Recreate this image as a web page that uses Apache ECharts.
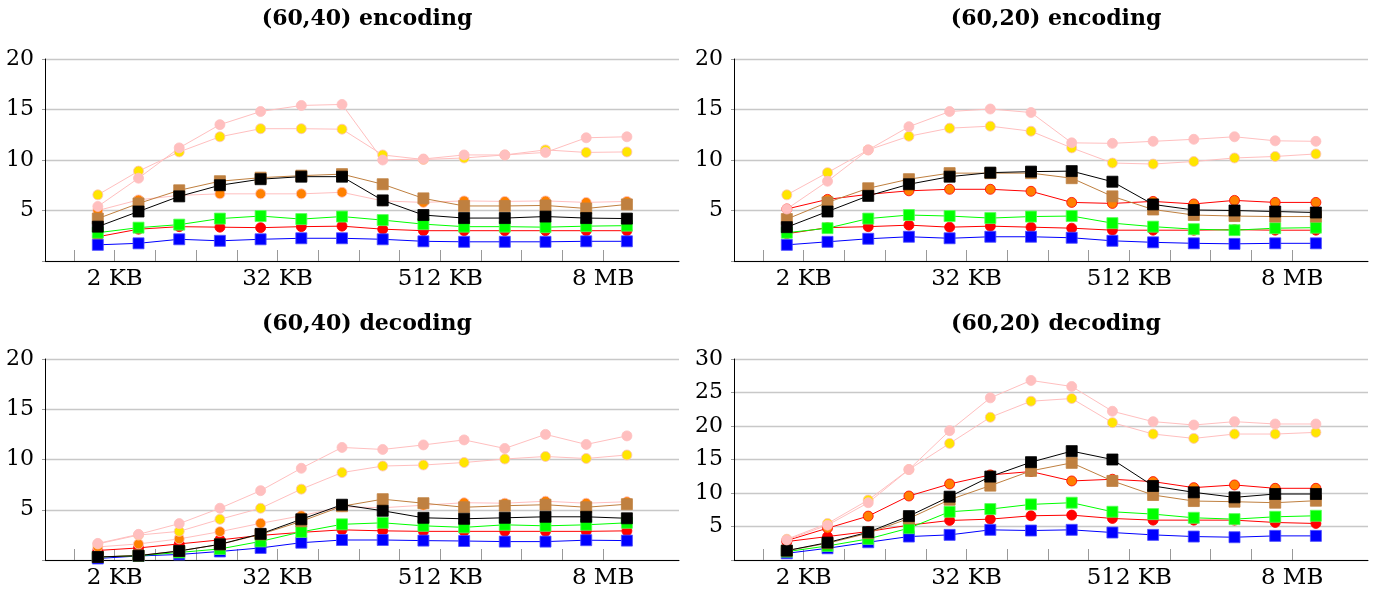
<!DOCTYPE html>
<html><head><meta charset="utf-8">
<script src="https://cdn.jsdelivr.net/npm/echarts@6/dist/echarts.min.js"></script>
<style>html,body{margin:0;padding:0;background:#fff}#c{width:1377px;height:595px}</style>
</head><body><div id="c"></div>
<script>
// x positions: block sizes in KB
const sizesKB = [1.5, 3, 6, 12, 24, 48, 96, 192, 384, 768, 1536, 3072, 6144, 12288];
// tick positions (log2 bytes) and labels
const tickExps = [10, 11, 12, 13, 14, 15, 16, 17, 18, 19, 20, 21, 22, 23];
const labelExps = [11, 15, 19, 23];
const labelTexts = ['2 KB', '32 KB', '512 KB', '8 MB'];
const titles = ['(60,40) encoding', '(60,20) encoding', '(60,40) decoding', '(60,20) decoding'];
const yMax = [20, 20, 20, 30];

// (60,40) encoding
const encA_pink   = [5.4, 8.2, 11.2, 13.5, 14.8, 15.4, 15.5, 10.0, 10.1, 10.5, 10.5, 10.75, 12.2, 12.3];
const encA_yellow = [6.55, 8.9, 10.8, 12.3, 13.1, 13.1, 13.05, 10.5, 10.05, 10.2, 10.5, 11.0, 10.75, 10.8];
const encA_brown  = [4.2, 5.7, 7.0, 7.9, 8.25, 8.45, 8.6, 7.6, 6.2, 5.45, 5.45, 5.5, 5.2, 5.6];
const encA_black  = [3.4, 4.9, 6.4, 7.5, 8.1, 8.35, 8.35, 6.0, 4.55, 4.25, 4.25, 4.4, 4.25, 4.2];
const encA_orange = [5.0, 6.05, 6.5, 6.65, 6.65, 6.65, 6.8, 5.95, 5.8, 5.95, 5.9, 5.95, 5.8, 5.9];
const encA_green  = [2.8, 3.3, 3.6, 4.2, 4.45, 4.15, 4.4, 4.05, 3.65, 3.4, 3.4, 3.35, 3.45, 3.5];
const encA_red    = [2.4, 3.15, 3.4, 3.35, 3.3, 3.4, 3.45, 3.15, 3.0, 3.0, 3.0, 3.0, 3.0, 3.0];
const encA_blue   = [1.6, 1.75, 2.15, 2.0, 2.15, 2.25, 2.25, 2.15, 1.95, 1.9, 1.9, 1.9, 1.95, 1.95];

// (60,20) encoding
const encB_pink   = [5.15, 7.9, 11.0, 13.3, 14.8, 15.05, 14.7, 11.7, 11.65, 11.85, 12.05, 12.3, 11.9, 11.85];
const encB_yellow = [6.55, 8.75, 11.0, 12.35, 13.15, 13.35, 12.85, 11.2, 9.7, 9.6, 9.85, 10.2, 10.35, 10.6];
const encB_brown  = [4.15, 5.8, 7.2, 8.1, 8.7, 8.7, 8.7, 8.2, 6.4, 5.1, 4.55, 4.45, 4.4, 4.4];
const encB_black  = [3.35, 4.9, 6.45, 7.6, 8.35, 8.75, 8.85, 8.9, 7.85, 5.6, 5.05, 5.0, 4.9, 4.8];
const encB_orange = [5.15, 6.1, 6.6, 6.95, 7.1, 7.1, 6.9, 5.8, 5.7, 5.9, 5.65, 6.0, 5.8, 5.8];
const encB_green  = [2.8, 3.25, 4.2, 4.55, 4.45, 4.25, 4.4, 4.45, 3.75, 3.4, 3.15, 3.05, 3.25, 3.3];
const encB_red    = [2.7, 3.3, 3.4, 3.55, 3.35, 3.45, 3.35, 3.25, 3.05, 3.05, 3.05, 3.1, 3.05, 3.05];
const encB_blue   = [1.6, 1.9, 2.2, 2.4, 2.25, 2.4, 2.4, 2.3, 2.0, 1.85, 1.75, 1.7, 1.75, 1.75];

// (60,40) decoding
const decA_pink   = [1.65, 2.55, 3.62, 5.15, 6.9, 9.13, 11.2, 11.0, 11.45, 11.95, 11.1, 12.5, 11.5, 12.35];
const decA_yellow = [1.6, 2.48, 2.85, 4.05, 5.15, 7.05, 8.7, 9.35, 9.45, 9.7, 10.05, 10.3, 10.1, 10.45];
const decA_brown  = [0.3, 0.45, 0.9, 1.55, 2.55, 3.85, 5.35, 6.05, 5.65, 5.25, 5.4, 5.5, 5.25, 5.55];
const decA_black  = [0.3, 0.43, 0.9, 1.56, 2.6, 4.05, 5.5, 4.9, 4.2, 4.1, 4.2, 4.3, 4.3, 4.15];
const decA_orange = [1.3, 1.6, 2.1, 2.82, 3.65, 4.4, 5.3, 5.2, 5.45, 5.7, 5.65, 5.85, 5.65, 5.8];
const decA_green  = [0.3, 0.42, 0.75, 1.1, 1.85, 2.8, 3.55, 3.7, 3.4, 3.25, 3.5, 3.4, 3.5, 3.7];
const decA_red    = [0.95, 1.2, 1.6, 2.0, 2.45, 2.75, 3.0, 2.9, 2.85, 2.85, 2.85, 2.85, 2.85, 2.9];
const decA_blue   = [0.15, 0.4, 0.55, 0.85, 1.2, 1.72, 1.99, 1.99, 1.93, 1.89, 1.83, 1.83, 1.97, 1.93];

// (60,20) decoding
const decB_pink   = [3.0, 5.2, 8.55, 13.5, 19.3, 24.2, 26.8, 25.9, 22.2, 20.65, 20.15, 20.65, 20.3, 20.3];
const decB_yellow = [3.1, 5.45, 8.95, 13.5, 17.4, 21.3, 23.7, 24.1, 20.5, 18.8, 18.15, 18.8, 18.8, 19.05];
const decB_brown  = [1.4, 2.5, 4.0, 6.2, 9.0, 11.1, 13.3, 14.5, 11.8, 9.7, 8.8, 8.7, 8.55, 8.85];
const decB_black  = [1.4, 2.6, 4.15, 6.55, 9.45, 12.45, 14.6, 16.25, 15.0, 11.05, 10.1, 9.35, 9.85, 9.85];
const decB_orange = [2.9, 4.75, 6.55, 9.55, 11.35, 12.7, 13.2, 11.8, 12.05, 11.7, 10.8, 11.2, 10.7, 10.7];
const decB_green  = [1.25, 2.1, 3.15, 4.75, 7.2, 7.6, 8.3, 8.55, 7.2, 6.85, 6.3, 6.1, 6.45, 6.6];
const decB_red    = [2.75, 3.5, 4.25, 5.2, 5.9, 6.1, 6.6, 6.7, 6.2, 5.95, 5.95, 5.95, 5.6, 5.45];
const decB_blue   = [1.0, 1.75, 2.65, 3.5, 3.75, 4.5, 4.4, 4.5, 4.1, 3.75, 3.5, 3.4, 3.6, 3.6];

const PINK = '#FFBFBF', YEL = '#FFE500', ORG = '#FF8000', BRN = '#BF8040',
      GRN = '#00FF00', RED = '#FF0000', BLU = '#0000FF', BLK = '#000000';

const panels = [
  {pink: encA_pink, yellow: encA_yellow, brown: encA_brown, black: encA_black, orange: encA_orange, green: encA_green, red: encA_red, blue: encA_blue, orangeLine: PINK},
  {pink: encB_pink, yellow: encB_yellow, brown: encB_brown, black: encB_black, orange: encB_orange, green: encB_green, red: encB_red, blue: encB_blue, orangeLine: RED},
  {pink: decA_pink, yellow: decA_yellow, brown: decA_brown, black: decA_black, orange: decA_orange, green: decA_green, red: decA_red, blue: decA_blue, orangeLine: PINK},
  {pink: decB_pink, yellow: decB_yellow, brown: decB_brown, black: decB_black, orange: decB_orange, green: decB_green, red: decB_red, blue: decB_blue, orangeLine: RED}
];

const xs = sizesKB.map(k => Math.log2(k * 1024));
const labelMap = {};
labelExps.forEach((e, i) => labelMap[e] = labelTexts[i]);

const gridPos = [
  {left: 45, right: 698, top: 59, bottom: 334},
  {left: 734, right: 9, top: 59, bottom: 334},
  {left: 45, right: 698, top: 359, bottom: 35},
  {left: 734, right: 9, top: 359, bottom: 35}
];
const titlePos = [
  {left: 362, top: 3}, {left: 1051, top: 3}, {left: 362, top: 308}, {left: 1051, top: 308}
];

const FONT = 'DejaVu Serif';
const option = {
  animation: false,
  backgroundColor: '#fff',
  title: titles.map((t, i) => ({
    text: t, left: titlePos[i].left, top: titlePos[i].top, textAlign: 'center',
    textStyle: {fontFamily: FONT, fontWeight: 'bold', fontSize: 22, color: '#000'}
  })),
  grid: gridPos.map(g => Object.assign({outerBoundsMode: 'none', containLabel: false}, g)),
  xAxis: gridPos.map((g, i) => ({
    type: 'value', gridIndex: i, min: 9.287, max: 24.865,
    axisLine: {show: true, lineStyle: {color: '#000', width: 1}},
    axisTick: {show: true, inside: true, length: 11, customValues: tickExps, lineStyle: {color: '#999', width: 1}},
    axisLabel: {show: true, customValues: labelExps, margin: 7, color: '#000', fontFamily: FONT, fontSize: 23,
      formatter: v => labelMap[Math.round(v)] || ''},
    splitLine: {show: false}
  })),
  yAxis: gridPos.map((g, i) => ({
    type: 'value', gridIndex: i, min: 0, max: yMax[i], interval: 5,
    axisLine: {show: true, lineStyle: {color: '#000', width: 1}},
    axisTick: {show: true, length: 3, lineStyle: {color: '#999'}},
    axisLabel: {margin: 11, color: '#000', fontFamily: FONT, fontSize: 22, formatter: v => v === 0 ? '' : String(v)},
    splitLine: {show: true, lineStyle: {color: '#c8c8c8', width: 1.3}}
  })),
  series: []
};

function mk(i, vals, lineColor, fill, border, symbol) {
  return {
    type: 'line', xAxisIndex: i, yAxisIndex: i,
    data: vals.map((v, k) => [xs[k], v]),
    symbol: symbol, symbolSize: symbol === 'rect' ? 11 : 10,
    showAllSymbol: true,
    lineStyle: {color: lineColor, width: 1},
    itemStyle: {color: fill, borderColor: border, borderWidth: 0.8},
    emphasis: {disabled: true}, silent: true
  };
}

panels.forEach((p, i) => {
  option.series.push(mk(i, p.red, RED, RED, RED, 'circle'));
  option.series.push(mk(i, p.blue, BLU, BLU, '#4d4dff', 'rect'));
  option.series.push(mk(i, p.orange, p.orangeLine, ORG, p.orangeLine, 'circle'));
  option.series.push(mk(i, p.green, GRN, GRN, '#55ff55', 'rect'));
  option.series.push(mk(i, p.brown, BRN, BRN, BRN, 'rect'));
  option.series.push(mk(i, p.black, BLK, BLK, BLK, 'rect'));
  option.series.push(mk(i, p.yellow, PINK, YEL, PINK, 'circle'));
  option.series.push(mk(i, p.pink, PINK, PINK, PINK, 'circle'));
});

const chart = echarts.init(document.getElementById('c'), null, {renderer: 'canvas'});
chart.setOption(option);
</script>
</body></html>
